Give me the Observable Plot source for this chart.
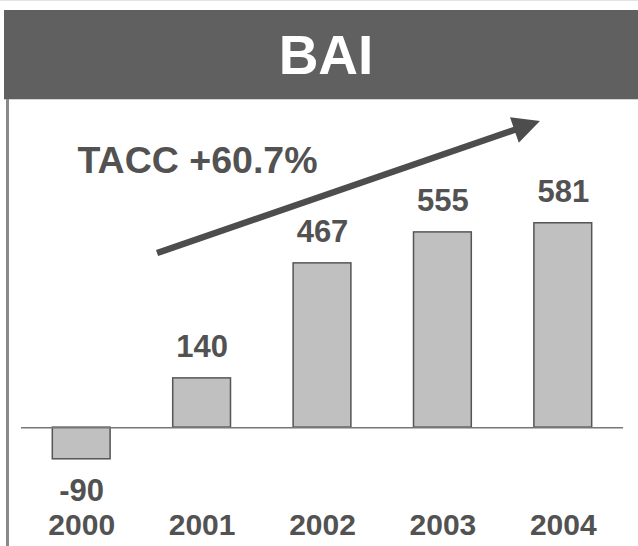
<!DOCTYPE html>
<html><head><meta charset="utf-8">
<script src="https://cdn.jsdelivr.net/npm/d3@7"></script>
<script src="https://cdn.jsdelivr.net/npm/@observablehq/plot@0.6"></script>
<style>
html,body{margin:0;padding:0;background:#fff;}
body{width:638px;height:546px;position:relative;overflow:hidden;font-family:"Liberation Sans",Arial,sans-serif;}
#topline{position:absolute;left:0;top:0;width:638px;height:1px;background:#e4e4e4;}
#band{position:absolute;left:4px;top:10px;width:634px;height:89px;background:#606060;}
#bandedge{position:absolute;left:4px;top:99px;width:634px;height:1px;background:#d4d4d4;}
#title{position:absolute;left:0;top:28px;width:652px;text-align:center;color:#fff;font-weight:bold;font-size:55px;line-height:55px;margin:0;}
#leftbar{position:absolute;left:6px;top:99px;width:3px;height:447px;background:#8a8a8a;}
#chart{position:absolute;left:0;top:100px;}
</style></head>
<body>
<div id="topline"></div>
<div id="band"></div>
<div id="bandedge"></div>
<h1 id="title">BAI</h1>
<div id="leftbar"></div>
<div id="chart"></div>
<script>
// Data
const years = [2000, 2001, 2002, 2003, 2004];
const values = [-90, 140, 467, 555, 581];
const growthLabel = "TACC +60.7%";
// annotation positions in data units (x = year, y = value)
const growthLabelAt = [1999.965, 725];
const arrowFrom = [2000.63, 495];
const arrowTo = [2003.81, 870];

const rows = years.map((year, i) => ({year, value: values[i]}));
const textColor = "#525252";
const font = "'Liberation Sans', Arial, sans-serif";

function arrowMark(index, scales) {
  const sx = scales.x, sy = scales.y;
  const x1 = sx(arrowFrom[0]), y1 = sy(arrowFrom[1]);
  const x2 = sx(arrowTo[0]), y2 = sy(arrowTo[1]);
  const len = Math.hypot(x2 - x1, y2 - y1);
  const ux = (x2 - x1) / len, uy = (y2 - y1) / len;
  const nx = -uy, ny = ux;
  const headLen = 27, headHalf = 13.5;
  const bx = x2 - ux * headLen, by = y2 - uy * headLen;
  const g = d3.create("svg:g");
  g.append("line")
    .attr("x1", x1).attr("y1", y1)
    .attr("x2", bx + ux * 2).attr("y2", by + uy * 2)
    .attr("stroke", "#4d4d4d").attr("stroke-width", 6.5);
  g.append("path")
    .attr("d", `M${x2},${y2}L${bx + nx * headHalf},${by + ny * headHalf}L${bx - nx * headHalf},${by - ny * headHalf}Z`)
    .attr("fill", "#4d4d4d");
  return g.node();
}

const chart = Plot.plot({
  width: 638,
  height: 446,
  marginLeft: 21,
  marginRight: 15,
  marginTop: 0,
  marginBottom: 45,
  style: {fontFamily: font, background: "transparent", overflow: "visible"},
  x: {type: "linear", domain: [1999.5, 2004.5], axis: null},
  y: {domain: [-210, 930], axis: null},
  marks: [
    Plot.rectY(rows, {x1: d => d.year - 0.24, x2: d => d.year + 0.24, y1: 0, y2: "value", fill: "#c0c0c0", stroke: "#555", strokeWidth: 1.5}),
    Plot.ruleY([0], {stroke: "#777", strokeWidth: 1.5}),
    Plot.text(rows.filter(d => d.value >= 0), {x: "year", y: "value", text: d => String(d.value), lineAnchor: "bottom", dy: -21, fontSize: 31, fontWeight: "bold", fill: textColor}),
    Plot.text(rows.filter(d => d.value < 0), {x: "year", y: "value", text: d => String(d.value), lineAnchor: "top", dy: 20, fontSize: 31, fontWeight: "bold", fill: textColor}),
    Plot.axisX({ticks: years, tickFormat: d => String(d), tickSize: 0, tickPadding: 12, fontSize: 30, fontWeight: "bold", color: textColor, label: null}),
    Plot.text([growthLabel], {x: () => growthLabelAt[0], y: () => growthLabelAt[1], text: d => d, textAnchor: "start", lineAnchor: "bottom", fontSize: 37.5, fontWeight: "bold", fill: textColor}),
    arrowMark
  ]
});
document.getElementById("chart").append(chart);
</script>
</body></html>
